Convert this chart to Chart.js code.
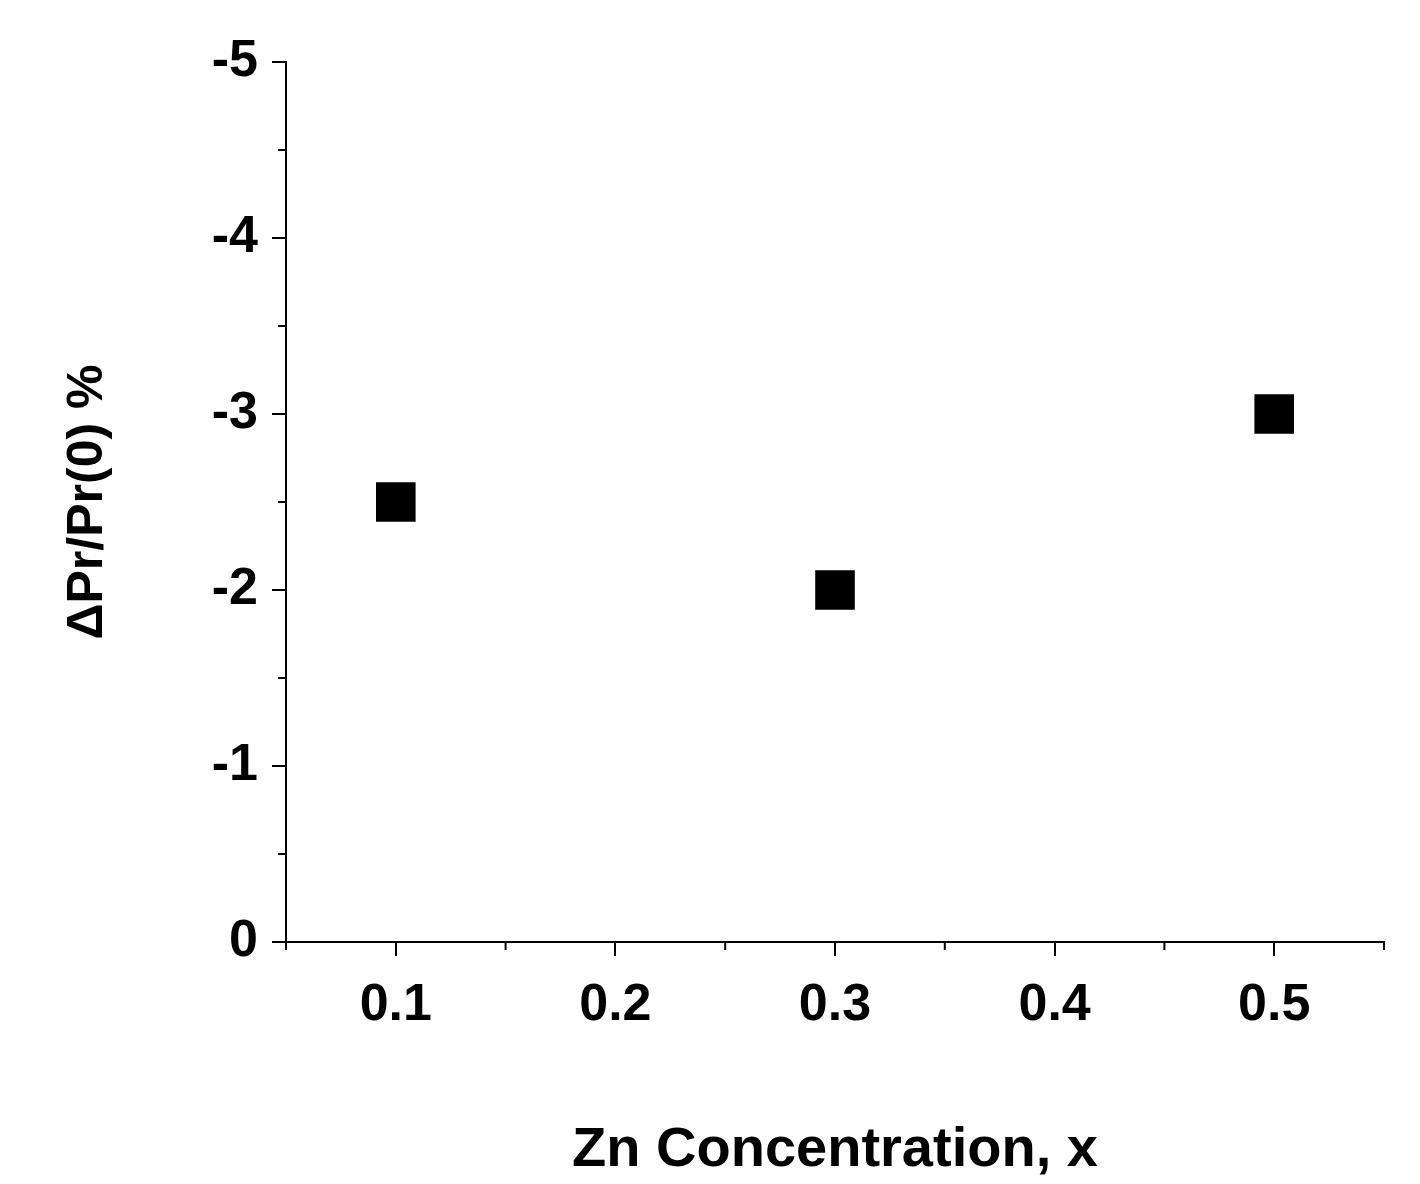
<!DOCTYPE html>
<html>
<head>
<meta charset="utf-8">
<script src="https://cdn.jsdelivr.net/npm/chart.js@4"></script>
<style>
  body { margin: 0; background: #fff; }
  #wrap { width: 1420px; height: 1184px; }
</style>
</head>
<body>
<div id="wrap"><canvas id="c"></canvas></div>
<script>
// data
var zn = [0.1, 0.3, 0.5];
var dPr = [-2.5, -2.0, -3.0];
var xTicks = [0.1, 0.2, 0.3, 0.4, 0.5];
var yTicks = [0, -1, -2, -3, -4, -5];

var FONT = "'Liberation Sans', Arial, sans-serif";

// draws the minor ticks between the major ones
var minorTicks = {
  id: 'minorTicks',
  afterDraw: function(chart){
    var ctx = chart.ctx, xs = chart.scales.x, ys = chart.scales.y;
    ctx.save();
    ctx.strokeStyle = '#000';
    ctx.lineWidth = 2;
    ctx.beginPath();
    for (var v = 0.05; v < 0.56; v += 0.1) {
      var px = xs.getPixelForValue(v);
      ctx.moveTo(px, xs.top); ctx.lineTo(px, xs.top + 8);
    }
    for (var w = -0.5; w > -5; w -= 1) {
      var py = ys.getPixelForValue(w);
      ctx.moveTo(ys.right, py); ctx.lineTo(ys.right - 8, py);
    }
    ctx.stroke();
    ctx.restore();
  }
};

var pts = [];
for (var i = 0; i < zn.length; i++) pts.push({x: zn[i], y: dPr[i]});

new Chart(document.getElementById('c'), {
  type: 'scatter',
  data: {
    datasets: [{
      data: pts,
      pointStyle: 'rect',
      pointRadius: 28,
      pointHoverRadius: 28,
      backgroundColor: '#000',
      borderColor: '#000',
      borderWidth: 0
    }]
  },
  options: {
    responsive: true,
    maintainAspectRatio: false,
    animation: false,
    layout: { padding: { left: 0, top: 62, right: 36, bottom: 0 } },
    plugins: { legend: { display: false }, tooltip: { enabled: false } },
    scales: {
      x: {
        type: 'linear', min: 0.05, max: 0.55,
        afterBuildTicks: function(s){ s.ticks = xTicks.map(function(v){ return {value: v}; }); },
        afterFit: function(s){ s.height = 242; },
        border: { color: '#000', width: 2 },
        grid: { drawOnChartArea: false, color: '#000', lineWidth: 2, tickLength: 14 },
        ticks: { color: '#000', font: { family: FONT, size: 52, weight: 'bold' }, padding: 18,
                 callback: function(v){ return v.toFixed(1); } },
        title: { display: true, text: 'Zn Concentration, x', color: '#000',
                 font: { family: FONT, size: 56, weight: 'bold' }, padding: { top: 40, bottom: 0 } }
      },
      y: {
        type: 'linear', min: -5, max: 0, reverse: true,
        afterBuildTicks: function(s){ s.ticks = yTicks.map(function(v){ return {value: v}; }); },
        afterFit: function(s){ s.width = 286; },
        border: { color: '#000', width: 2 },
        grid: { drawOnChartArea: false, color: '#000', lineWidth: 2, tickLength: 14 },
        ticks: { color: '#000', font: { family: FONT, size: 52, weight: 'bold' }, padding: 14,
                 callback: function(v){ return String(v); } },
        title: { display: true, text: '\u0394Pr/Pr(0) %', color: '#000',
                 font: { family: FONT, size: 50, weight: 'bold' }, padding: { top: 58, bottom: 0 } }
      }
    }
  },
  plugins: [minorTicks]
});
</script>
</body>
</html>
